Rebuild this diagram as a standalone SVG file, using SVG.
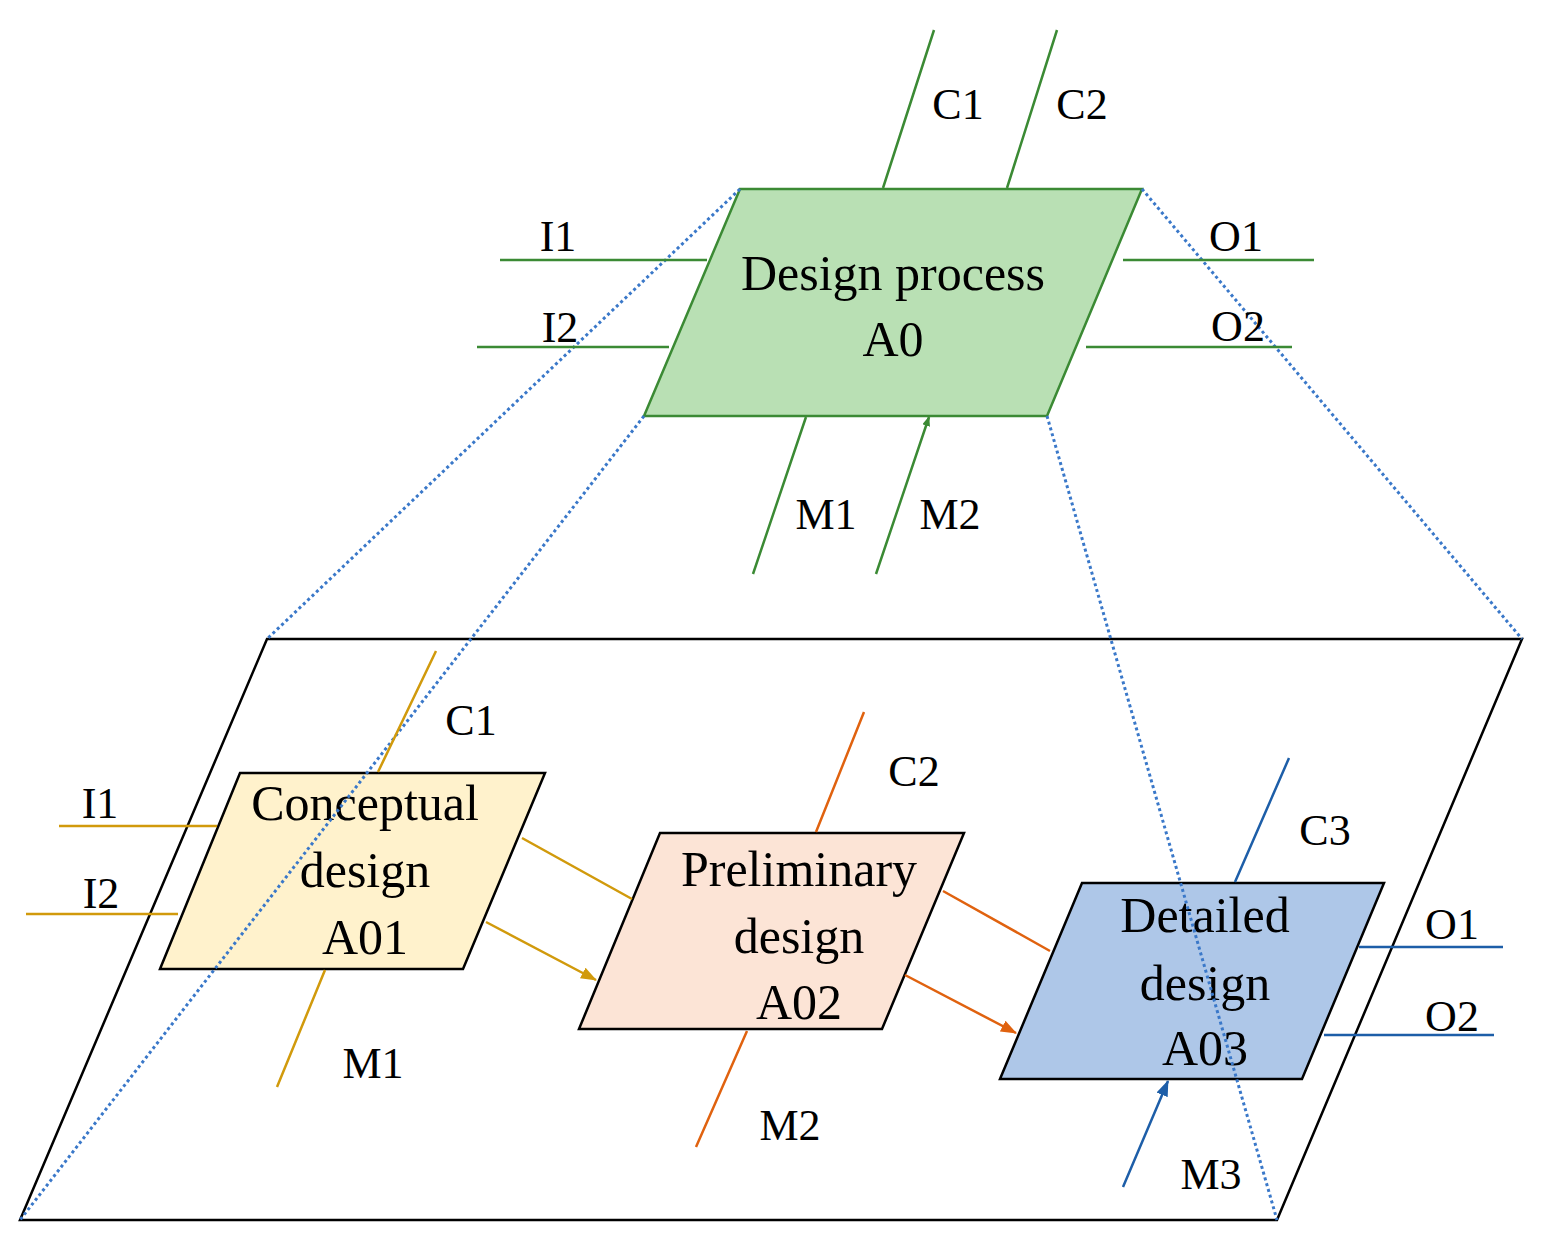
<svg xmlns="http://www.w3.org/2000/svg" width="1543" height="1243" viewBox="0 0 1543 1243">
<style>
text{font-family:"Liberation Serif","Times New Roman",serif;fill:#000;text-anchor:middle}
.lb{font-size:44px}.nt{font-size:50px}
.g{stroke:#3b8a34;stroke-width:2.5;fill:none;marker-end:url(#ag)}
.y{stroke:#d19a0c;stroke-width:2.5;fill:none;marker-end:url(#ay)}
.o{stroke:#e0620f;stroke-width:2.5;fill:none;marker-end:url(#ao)}
.b{stroke:#1d5ea8;stroke-width:2.5;fill:none;marker-end:url(#ab)}
.d{stroke:#3a78c9;stroke-width:3;stroke-dasharray:3 3;fill:none}
</style>
<defs>
<marker id="ag" markerWidth="10" markerHeight="8" refX="9" refY="4" orient="auto" markerUnits="userSpaceOnUse" viewBox="0 0 10 8"><path d="M0,0L10,4L0,8Z" fill="#3b8a34"/></marker>
<marker id="ay" markerWidth="16" markerHeight="12" refX="15" refY="6" orient="auto" markerUnits="userSpaceOnUse"><path d="M0,0L16,6L0,12Z" fill="#d19a0c"/></marker>
<marker id="ao" markerWidth="16" markerHeight="12" refX="15" refY="6" orient="auto" markerUnits="userSpaceOnUse"><path d="M0,0L16,6L0,12Z" fill="#e0620f"/></marker>
<marker id="ab" markerWidth="16" markerHeight="12" refX="15" refY="6" orient="auto" markerUnits="userSpaceOnUse"><path d="M0,0L16,6L0,12Z" fill="#1d5ea8"/></marker>
</defs>
<rect width="1543" height="1243" fill="#fff"/>
<g id="plane"><polygon points="267,639 1522,639 1277,1220 20,1220" fill="none" stroke="#000" stroke-width="2.5"/></g>
<g id="A0"><polygon points="740,189 1142,189 1047,416 644,416" fill="#b9e0b4" stroke="#3b8a34" stroke-width="2.5"/>
<text class="nt" x="893" y="290">Design process</text><text class="nt" x="893" y="356">A0</text></g>
<g id="A01"><polygon points="240,773 545,773 463,969 160,969" fill="#fff2cc" stroke="#000" stroke-width="2.5"/>
<text class="nt" x="365" y="820">Conceptual</text><text class="nt" x="365" y="887">design</text><text class="nt" x="365" y="954">A01</text></g>
<g id="A02"><polygon points="660,833 964,833 882,1029 579,1029" fill="#fce4d6" stroke="#000" stroke-width="2.5"/>
<text class="nt" x="799" y="886">Preliminary</text><text class="nt" x="799" y="953">design</text><text class="nt" x="799" y="1019">A02</text></g>
<g id="A03"><polygon points="1082,883 1384,883 1302,1079 1000,1079" fill="#aec7e8" stroke="#000" stroke-width="2.5"/>
<text class="nt" x="1205" y="932">Detailed</text><text class="nt" x="1205" y="1000">design</text><text class="nt" x="1205" y="1065">A03</text></g>
<g id="connectors">
<path class="d" d="M740,189L267,639M644,416L20,1220M1142,189L1522,639M1047,416L1277,1220"/>
<path class="g" d="M934,30L883,188M1057,30L1007,188M500,260L707,260M477,347L669,347M1123,260L1314,260M1086,347L1292,347M753,574L806,417M876,574L929,417"/>
<path class="y" d="M436,651L378,772M59,826L217,826M26,914L178,914M277,1087L325,970M522,838L632,899M486,922L596,980"/>
<path class="o" d="M864,712L816,832M696,1147L747,1031M943,891L1050,951M905,975L1016,1033"/>
<path class="b" d="M1289,758L1235,882M1359,947L1503,947M1324,1035L1494,1035M1123,1187L1168,1081"/>
</g>
<g id="labels" class="lb">
<text x="958" y="119">C1</text><text x="1082" y="119">C2</text><text x="558" y="251">I1</text><text x="560" y="342">I2</text>
<text x="1236" y="251">O1</text><text x="1238" y="341">O2</text><text x="826" y="529">M1</text><text x="950" y="529">M2</text>
<text x="471" y="735">C1</text><text x="100" y="818">I1</text><text x="101" y="908">I2</text><text x="373" y="1078">M1</text>
<text x="914" y="786">C2</text><text x="790" y="1140">M2</text><text x="1325" y="845">C3</text>
<text x="1452" y="939">O1</text><text x="1452" y="1031">O2</text><text x="1211" y="1189">M3</text>
</g>
</svg>
